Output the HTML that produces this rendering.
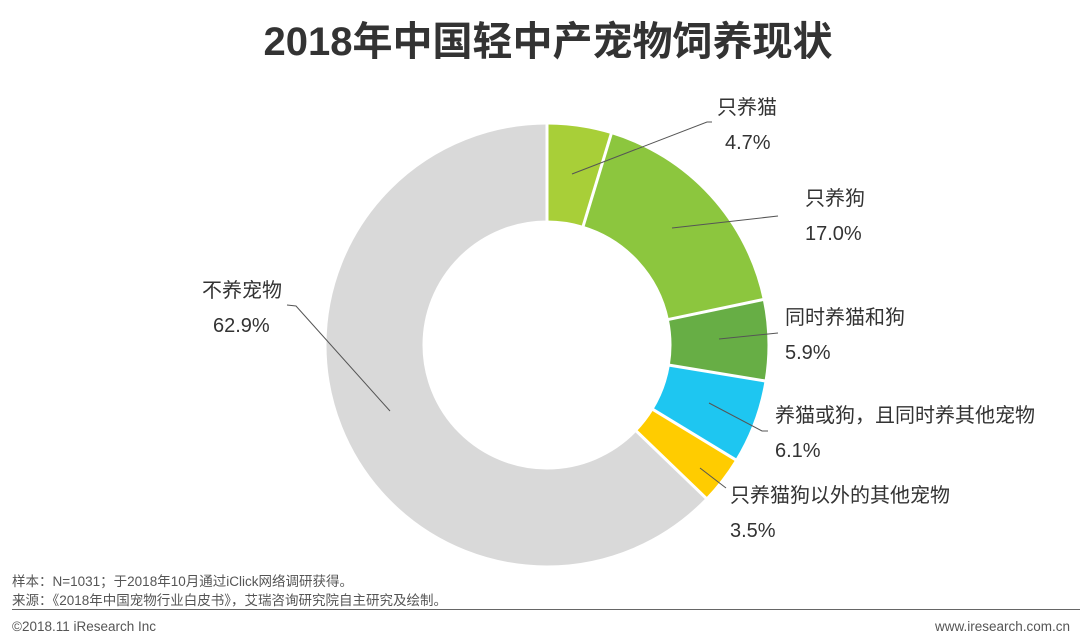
<!DOCTYPE html>
<html><head><meta charset="utf-8"><style>
html,body{margin:0;padding:0;background:#fff;width:1080px;height:642px;overflow:hidden}
svg text{font-family:"Liberation Sans","Noto Sans CJK SC",sans-serif}
</style></head><body>
<svg width="1080" height="642" viewBox="0 0 1080 642">
<text x="548" y="55" text-anchor="middle" font-size="40" font-weight="bold" fill="#333">2018年中国轻中产宠物饲养现状</text>
<g transform="rotate(-90 547 345)" fill="none" stroke-width="96">
<circle cx="547" cy="345" r="172.5" stroke="#a8cf38" stroke-dasharray="50.94 2000" stroke-dashoffset="0"/>
<circle cx="547" cy="345" r="172.5" stroke="#8cc63e" stroke-dasharray="184.25 2000" stroke-dashoffset="-50.94"/>
<circle cx="547" cy="345" r="172.5" stroke="#67ae45" stroke-dasharray="63.95 2000" stroke-dashoffset="-235.19"/>
<circle cx="547" cy="345" r="172.5" stroke="#1ec6f1" stroke-dasharray="66.11 2000" stroke-dashoffset="-299.14"/>
<circle cx="547" cy="345" r="172.5" stroke="#ffcc00" stroke-dasharray="37.93 2000" stroke-dashoffset="-365.25"/>
<circle cx="547" cy="345" r="172.5" stroke="#d9d9d9" stroke-dasharray="681.74 2000" stroke-dashoffset="-403.18"/>
</g>
<g stroke="#fff" stroke-width="3">
<line x1="547" y1="222" x2="547" y2="120" transform="rotate(0 547 345)"/>
<line x1="547" y1="222" x2="547" y2="120" transform="rotate(16.92 547 345)"/>
<line x1="547" y1="222" x2="547" y2="120" transform="rotate(78.12 547 345)"/>
<line x1="547" y1="222" x2="547" y2="120" transform="rotate(99.36 547 345)"/>
<line x1="547" y1="222" x2="547" y2="120" transform="rotate(121.32 547 345)"/>
<line x1="547" y1="222" x2="547" y2="120" transform="rotate(133.92 547 345)"/>
</g>
<g stroke="#555" stroke-width="1" fill="none">
<polyline points="572,174 707,122 712,122"/>
<polyline points="672,228 778,216"/>
<polyline points="719,339 778,333"/>
<polyline points="709,403 762,431 768,431"/>
<polyline points="700,468 726,488"/>
<polyline points="390,411 296,306 287,305"/>
</g>
<g font-size="20" fill="#333">
<text x="717" y="114">只养猫</text><text x="725" y="149">4.7%</text>
<text x="805" y="205">只养狗</text><text x="805" y="240">17.0%</text>
<text x="785" y="324">同时养猫和狗</text><text x="785" y="359">5.9%</text>
<text x="775" y="422">养猫或狗，且同时养其他宠物</text><text x="775" y="457">6.1%</text>
<text x="730" y="502">只养猫狗以外的其他宠物</text><text x="730" y="537">3.5%</text>
<text x="202" y="297">不养宠物</text><text x="213" y="332">62.9%</text>
</g>
<g font-size="13.5" fill="#555">
<text x="12" y="586">样本：N=1031；于2018年10月通过iClick网络调研获得。</text>
<text x="12" y="605">来源：《2018年中国宠物行业白皮书》，艾瑞咨询研究院自主研究及绘制。</text>
<text x="12" y="631">©2018.11 iResearch Inc</text>
<text x="1070" y="631" text-anchor="end">www.iresearch.com.cn</text>
</g>
<line x1="12" y1="609.5" x2="1080" y2="609.5" stroke="#666" stroke-width="1"/>
</svg>
</body></html>
